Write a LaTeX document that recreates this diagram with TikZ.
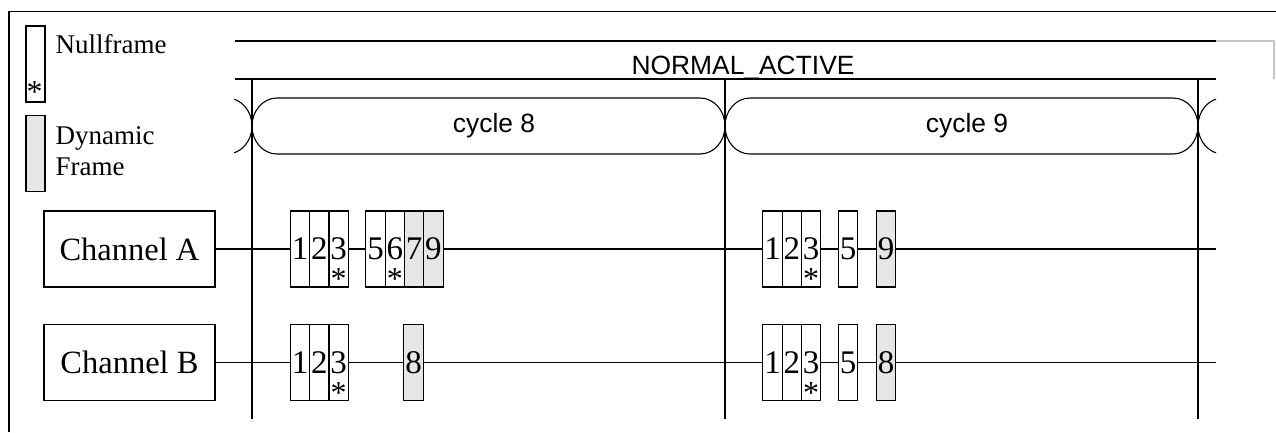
\documentclass[tikz,border=0pt]{standalone}
\usepackage{fontspec}
\setmainfont{Liberation Serif}
\newfontfamily\arialf{Liberation Sans}
\definecolor{dyngray}{RGB}{230,230,230}
\begin{document}
\begin{tikzpicture}[x=1pt,y=-1pt,line width=1.1pt,
  frame/.style={draw,fill=white,minimum width=19.3pt,minimum height=76pt,inner sep=0pt,font=\fontsize{33}{33}\selectfont},
  dyn/.style={frame,fill=dyngray},
  chan/.style={draw,fill=white,minimum width=171pt,minimum height=76pt,inner sep=0pt,font=\fontsize{32.5}{32.5}\selectfont},
  star/.style={anchor=base,inner sep=0pt,font=\fontsize{32}{32}\selectfont},
  leg/.style={anchor=base west,inner sep=0pt,font=\fontsize{27}{27}\selectfont},
  sans/.style={inner sep=0pt,font=\arialf\fontsize{26.4}{26.4}\selectfont},
  legbox/.style={draw,minimum width=19pt,minimum height=76pt,inner sep=0pt}]
\useasboundingbox (0,0) rectangle (1276,432);
% outer frame
\draw (9,432) -- (9,11.7) -- (1276,11.7);
% legend
\node[legbox] (lnull) at (35.5,64) {};
\node[star] (lstar) at (34.5,102.5) {*};
\node[legbox,fill=dyngray] (ldyn) at (35.5,153.5) {};
\node[leg] (tnull) at (55,53) {Nullframe};
\node[leg] (tdyn1) at (55,144) {Dynamic};
\node[leg] (tdyn2) at (55,175) {Frame};
% state bar
\draw (235,41) -- (1216,41);
\draw[gray!45] (1216,41) -- (1274,41) -- (1274,79);
\draw (235,79) -- (1216,79);
\node[sans,anchor=base] (na) at (743,74) {NORMAL\_ACTIVE};
% cycles
\draw (277,98) -- (700,98) arc[start angle=90,end angle=-90,x radius=25pt,y radius=28pt]
  -- (277,154) arc[start angle=270,end angle=90,x radius=25pt,y radius=28pt] -- cycle;
\draw (750,98) -- (1173,98) arc[start angle=90,end angle=-90,x radius=25pt,y radius=28pt]
  -- (750,154) arc[start angle=270,end angle=90,x radius=25pt,y radius=28pt] -- cycle;
\begin{scope}
\clip (234,90) rectangle (1216,160);
\draw (200,98) -- (227,98) arc[start angle=90,end angle=-90,x radius=25pt,y radius=28pt] -- (200,154);
\draw (1260,98) -- (1223,98) arc[start angle=90,end angle=270,x radius=25pt,y radius=28pt] -- (1260,154);
\end{scope}
\node[sans] (c8) at (494,126) {cycle 8};
\node[sans] (c9) at (967,126) {cycle 9};
% cycle boundaries
\draw (252,79) -- (252,419);
\draw (725,79) -- (725,419);
\draw (1198,79) -- (1198,419);
% channels
\node[chan] (chA) at (129.5,249) {Channel A};
\node[chan] (chB) at (129.5,362.5) {Channel B};
\coordinate (endA) at (1216,249);
\coordinate (endB) at (1216,362.5);
\draw (chA.east) -- (endA);
\draw (chB.east) -- (endB);
% channel A, cycle 8
\node[frame] (a81) at (300,249) {1};
\node[frame] (a82) at (319.3,249) {2};
\node[frame] (a83) at (338.6,249) {3};
\node[frame] (a85) at (375.5,249) {5};
\node[frame] (a86) at (394.8,249) {6};
\node[dyn] (a87) at (414.1,249) {7};
\node[dyn] (a89) at (433.4,249) {9};
\node[star] (sa83) at (a83 |- 0,289.5) {*};
\node[star] (sa86) at (a86 |- 0,289.5) {*};
% channel B, cycle 8
\node[frame] (b81) at (300,362.5) {1};
\node[frame] (b82) at (319.3,362.5) {2};
\node[frame] (b83) at (338.6,362.5) {3};
\node[dyn] (b88) at (413.5,362.5) {8};
\node[star] (sb83) at (b83 |- 0,403) {*};
% channel A, cycle 9
\node[frame] (a91) at (772.5,249) {1};
\node[frame] (a92) at (791.8,249) {2};
\node[frame] (a93) at (811.1,249) {3};
\node[frame] (a95) at (848,249) {5};
\node[dyn] (a99) at (886,249) {9};
\node[star] (sa93) at (a93 |- 0,289.5) {*};
% channel B, cycle 9
\node[frame] (b91) at (772.5,362.5) {1};
\node[frame] (b92) at (791.8,362.5) {2};
\node[frame] (b93) at (811.1,362.5) {3};
\node[frame] (b95) at (848,362.5) {5};
\node[dyn] (b98) at (886,362.5) {8};
\node[star] (sb93) at (b93 |- 0,403) {*};
\end{tikzpicture}
\end{document}
